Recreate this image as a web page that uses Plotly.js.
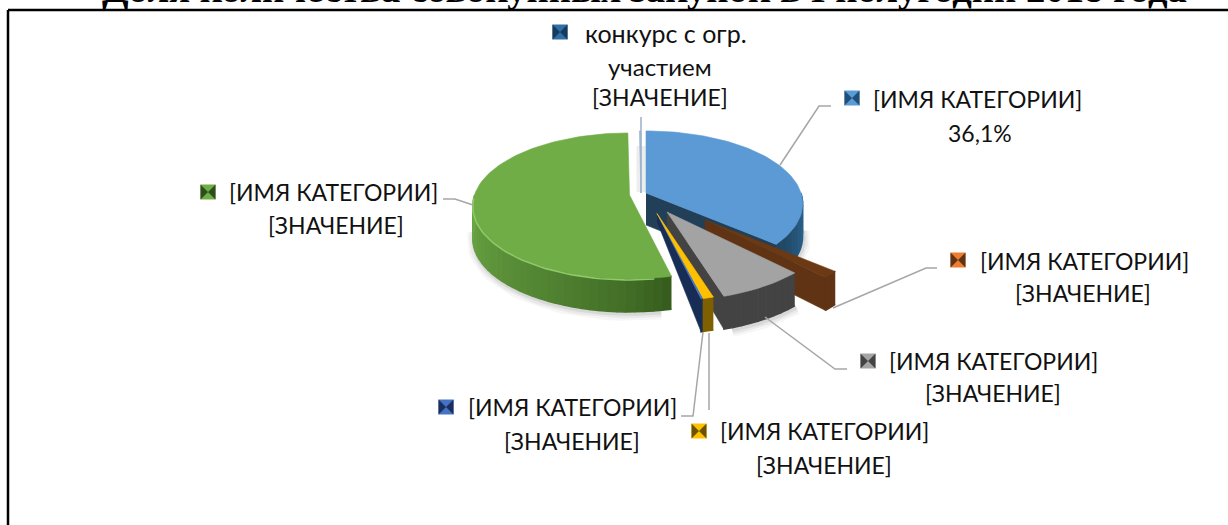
<!DOCTYPE html>
<html><head><meta charset="utf-8">
<script src="https://cdn.plot.ly/plotly-3.0.1.min.js"></script>
<style>html,body{margin:0;padding:0;background:#fff;overflow:hidden}#c{width:1228px;height:525px}</style>
</head><body><div id="c"></div>
<script>
// ---- data ----
const titleText = "Доля количества совокупных закупок в I полугодии 2018 года";
const categories = ["[ИМЯ КАТЕГОРИИ]","[ИМЯ КАТЕГОРИИ]","[ИМЯ КАТЕГОРИИ]","[ИМЯ КАТЕГОРИИ]","[ИМЯ КАТЕГОРИИ]","[ИМЯ КАТЕГОРИИ]","конкурс с огр. участием"];
const shares = [36.1, 1.5, 7.5, 0.9, 0.2, 53.6, 0.2];
const valueLabels = ["36,1%","[ЗНАЧЕНИЕ]","[ЗНАЧЕНИЕ]","[ЗНАЧЕНИЕ]","[ЗНАЧЕНИЕ]","[ЗНАЧЕНИЕ]","[ЗНАЧЕНИЕ]"];

// ---- styling / layout ----
const topColors  = ["#5b9ad5","#6b3a14","#a3a3a3","#ffc000","#4472c4","#70ad47","#9fb4cb"];
const wallColors = ["#223f58","#5f3314","#434343","#7f6000","#182d55","#33591c","#9fb4cb"];
const rimNear = ["#1f4460","#5f3314","#434343","#7f6000","#182d55","#33591c","#9fb4cb"];
const rimFar  = ["#2f6c9e","#5f3314","#4a4a4a","#7f6000","#182d55","#6ca845","#9fb4cb"];
const swatchLight = ["#5b9ad5","#ed7d31","#a5a5a5","#ffc000","#4472c4","#70ad47","#2f6ea6"];
const swatchDark  = ["#1f4e79","#5f3314","#444444","#6b5200","#1b2f5c","#2c4d1c","#153a5c"];
const apexX = [646,705,667,657,657,629.5,641];
const apexY = [193,220,212,213.5,213.5,195,193];
const rScale = [1,1,1.06,1.05,1.05,1,1];
const apexDepth = [32,30,22,8,8,0,0];
const wallSide = [1,1,1,0,1,0,0];
const hasRim = [1,1,1,1,1,1,0];
const drawOrder = [6,0,1,2,4,3,5];
const swX=[852,958,868,699,446,208,560], swY=[98,260,361,431,407,192,32];
const nameX=[977,1084,993,824,572,333,666], nameY=[99,261,361,431,407,192,33];
const valX=[980,1083,993,824,572,336,660], valY=[133,293,393,465,441,225,97];
const leaders=[
 {x:[780,819,831],y:[165,106,106]},
 {x:[833,926,937],y:[308,268,268]},
 {x:[765,835,847],y:[317,369,369]},
 {x:[709,709],y:[333,410]},
 {x:[703,693,681],y:[332,416,416]},
 {x:[473,455,443],y:[205,199,199]},
 {x:[641,641],y:[117,193]}
];
const RX=155, RY=73, K=0.15, DEPTH=33;
const FONT="Lato, 'Open Sans', sans-serif", FS=23;

function pt(i,deg){const t=deg*Math.PI/180,u=Math.sin(t),v=-Math.cos(t),s=(1+K*v)*rScale[i];
  return [apexX[i]+RX*u*s, apexY[i]+RY*v*s];}
function hex(c){return [1,3,5].map(j=>parseInt(c.substr(j,2),16));}
function mix(a,b,f){const A=hex(a),B=hex(b);return 'rgb('+A.map((x,j)=>Math.round(x+(B[j]-x)*f)).join(',')+')';}
function poly(xs,ys,col,w){return {type:'scatter',mode:'lines',x:xs,y:ys,fill:'toself',fillcolor:col,
  line:{color:col,width:w===undefined?0.6:w},hoverinfo:'skip',showlegend:false};}

const traces=[];
const starts=[],ends=[];let acc=0;
shares.forEach(s=>{starts.push(acc);acc+=s*3.6;ends.push(acc);});
function rimPath(i,a,b,n){const o=[];for(let j=0;j<=n;j++)o.push(pt(i,a+(b-a)*j/n));return o;}

// soft shadow below the body
[[14,0.035],[9,0.05],[4,0.07]].forEach(([w,op])=>{
  [[5,170,268],[0,92,130],[2,135,160]].forEach(([i,a,b])=>{
    const p=rimPath(i,a,b,40);
    traces.push({type:'scatter',mode:'lines',x:p.map(q=>q[0]+1),y:p.map(q=>q[1]+DEPTH+2),
      line:{color:'#000',width:w},opacity:op,hoverinfo:'skip',showlegend:false});
  });
});
// faint glow around the thin slice
traces.push({type:'scatter',mode:'lines',x:[641,641],y:[146,192],line:{color:'#000',width:9},opacity:0.07,hoverinfo:'skip',showlegend:false});

drawOrder.forEach(i=>{
  const a=starts[i],b=ends[i];
  if(wallSide[i]){
    const r=pt(i,b);
    traces.push(poly([apexX[i],r[0],r[0],apexX[i]],[apexY[i],r[1],r[1]+DEPTH,apexY[i]+apexDepth[i]],wallColors[i]));
  }
  const lo=Math.max(a,90),hi=Math.min(b,270);
  if(hi>lo && hasRim[i]){
    const n=Math.max(1,Math.round((hi-lo)/3));
    for(let j=0;j<n;j++){
      const p=pt(i,lo+(hi-lo)*j/n),q=pt(i,lo+(hi-lo)*(j+1)/n);
      const f=(j+0.5)/n;
      const c=(i===5)?mix(rimNear[i],rimFar[i],Math.pow(f,0.7)):(i===0?mix(rimFar[i],rimNear[i],f):rimNear[i]);
      traces.push(poly([p[0],q[0],q[0],p[0]],[p[1],q[1],q[1]+DEPTH,p[1]+DEPTH],c,1.4));
    }
  }
  const rim=rimPath(i,a,b,Math.max(4,Math.round((b-a)/2)));
  traces.push(poly([apexX[i],...rim.map(q=>q[0]),apexX[i]],[apexY[i],...rim.map(q=>q[1]),apexY[i]],topColors[i]));
  if(i===5){
    const h=rimPath(i,172,268,50);
    traces.push({type:'scatter',mode:'lines',x:h.map(q=>q[0]),y:h.map(q=>q[1]+1),
      line:{color:'#8fca68',width:1.6},hoverinfo:'skip',showlegend:false});
  }
});

leaders.forEach((l,i)=>traces.push({type:'scatter',mode:'lines',x:l.x,y:l.y,
  line:{color:i===6?'#9fb4cb':'#a6a6a6',width:i===6?1.6:1.5},hoverinfo:'skip',showlegend:false}));

traces.push({type:'scatter',mode:'markers',x:swX,y:swY,hoverinfo:'skip',showlegend:false,
  marker:{symbol:'square',size:15,color:swatchLight,line:{width:0}}});
traces.push({type:'scatter',mode:'markers',x:swX,y:swY,hoverinfo:'skip',showlegend:false,
  marker:{symbol:'bowtie',size:15,color:swatchDark,line:{width:0}}});

const ann=[];
function label(x,y,t,fs){ann.push({xref:'x',yref:'y',x:x,y:y,text:t,showarrow:false,xanchor:'center',yanchor:'middle',
  font:{family:FONT,size:fs||FS,color:'#111'}});}
categories.forEach((c,i)=>{
  if(i===6){label(nameX[i],nameY[i],'конкурс с огр.',25);label(660,66,'участием',24);}
  else label(nameX[i],nameY[i],c);
  label(valX[i],valY[i],valueLabels[i]);
});
ann.push({xref:'x',yref:'y',x:644,y:12,yanchor:'bottom',xanchor:'center',showarrow:false,text:'<b>'+titleText+'</b>',
  font:{family:"'Liberation Serif',serif",size:38.7,color:'#000'}});

Plotly.newPlot('c',traces,{
  width:1228,height:525,margin:{l:0,r:0,t:0,b:0},paper_bgcolor:'#fff',plot_bgcolor:'#fff',showlegend:false,hovermode:false,
  xaxis:{range:[0,1228],visible:false,fixedrange:true},
  yaxis:{range:[525,0],visible:false,fixedrange:true},
  annotations:ann,
  shapes:[
    {type:'line',xref:'paper',yref:'paper',x0:8/1228,x1:1,y0:1-10/525,y1:1-10/525,line:{color:'#000',width:2.5}},
    {type:'line',xref:'paper',yref:'paper',x0:8/1228,x1:8/1228,y0:0,y1:1-10/525,line:{color:'#000',width:2.5}}
  ]
},{displayModeBar:false,staticPlot:true});
</script></body></html>
